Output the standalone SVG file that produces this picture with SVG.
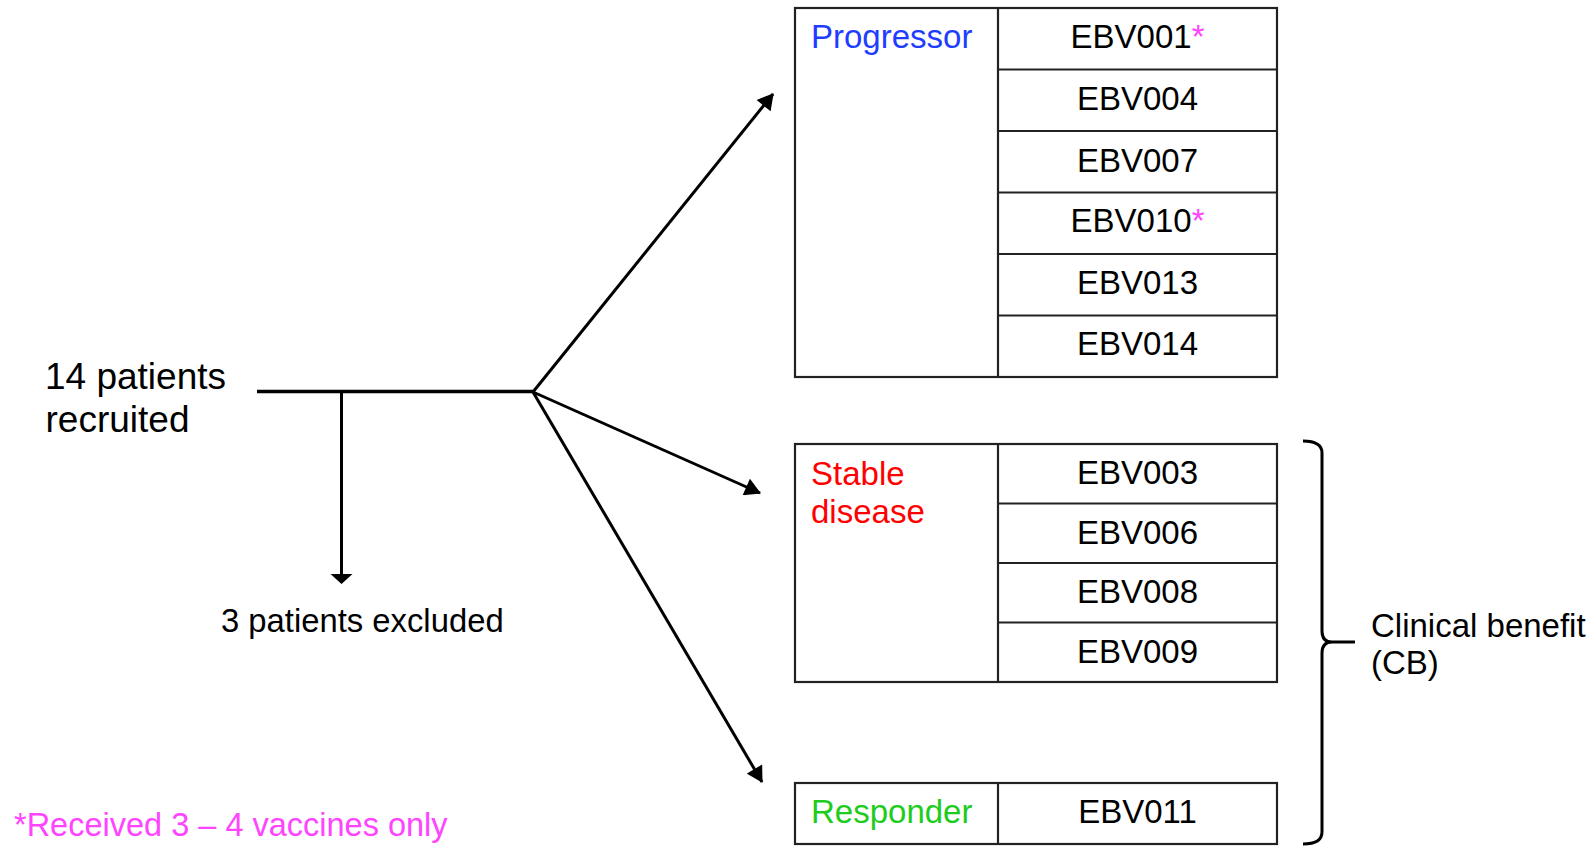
<svg xmlns="http://www.w3.org/2000/svg" width="1596" height="847" viewBox="0 0 1596 847">
<style>
text{font-family:"Liberation Sans",Arial,sans-serif;font-size:33px;fill:#000}
.big{font-size:37px}
.mid{text-anchor:middle}
.blue{fill:#1f3dff}
.red{fill:#ff0000}
.green{fill:#1ecc1e}
.pink{fill:#ff44ff}
.foot{font-size:32.5px}
.box{fill:#fff;stroke:#222;stroke-width:2.2}
.ln{stroke:#222;stroke-width:2.2;fill:none}
.con{stroke:#000;stroke-width:3;fill:none}
</style>
<defs>
<marker id="ah" markerUnits="userSpaceOnUse" markerWidth="18" markerHeight="18" viewBox="0 0 16 18" refX="15" refY="9" orient="auto">
<path d="M0,0 L16,9 L0,18 z" fill="#000"/>
</marker>
<marker id="ahd" markerUnits="userSpaceOnUse" markerWidth="10" markerHeight="24" viewBox="0 0 10 24" refX="9" refY="12" orient="auto">
<path d="M0,1 L10,12 L0,23 z" fill="#000"/>
</marker>
</defs>
<rect width="1596" height="847" fill="#fff"/>

<g id="start">
<text class="big" x="45" y="389">14 patients</text>
<text class="big" x="45.5" y="432">recruited</text>
</g>
<g id="excluded">
<text x="221" y="632" style="font-size:32.8px">3 patients excluded</text>
</g>

<g id="connectors">
<line class="con" x1="257" y1="391.5" x2="535" y2="391.5" style="stroke-width:3.5"/>
<line class="con" x1="341.5" y1="392" x2="341.5" y2="583" marker-end="url(#ahd)"/>
<line class="con" x1="533" y1="392" x2="773" y2="94" marker-end="url(#ah)"/>
<line class="con" x1="533" y1="392" x2="760" y2="493" marker-end="url(#ah)"/>
<line class="con" x1="533" y1="392" x2="762" y2="782" marker-end="url(#ah)"/>
</g>

<g id="progressor">
<rect class="box" x="795" y="8" width="482" height="369"/>
<line class="ln" x1="998" y1="8" x2="998" y2="377"/>
<line class="ln" x1="998" y1="69.5" x2="1277" y2="69.5"/>
<line class="ln" x1="998" y1="131" x2="1277" y2="131"/>
<line class="ln" x1="998" y1="192.5" x2="1277" y2="192.5"/>
<line class="ln" x1="998" y1="254" x2="1277" y2="254"/>
<line class="ln" x1="998" y1="315.5" x2="1277" y2="315.5"/>
<text class="blue" x="811" y="48">Progressor</text>
<text class="mid" x="1137.5" y="48">EBV001<tspan class="pink">*</tspan></text>
<text class="mid" x="1137.5" y="110">EBV004</text>
<text class="mid" x="1137.5" y="171.5">EBV007</text>
<text class="mid" x="1137.5" y="232">EBV010<tspan class="pink">*</tspan></text>
<text class="mid" x="1137.5" y="293.5">EBV013</text>
<text class="mid" x="1137.5" y="354.5">EBV014</text>
</g>

<g id="stable">
<rect class="box" x="795" y="444" width="482" height="238"/>
<line class="ln" x1="998" y1="444" x2="998" y2="682"/>
<line class="ln" x1="998" y1="503.5" x2="1277" y2="503.5"/>
<line class="ln" x1="998" y1="563" x2="1277" y2="563"/>
<line class="ln" x1="998" y1="622.5" x2="1277" y2="622.5"/>
<text class="red" x="811" y="485">Stable</text>
<text class="red" x="811" y="523">disease</text>
<text class="mid" x="1137.5" y="483.5">EBV003</text>
<text class="mid" x="1137.5" y="543.5">EBV006</text>
<text class="mid" x="1137.5" y="603">EBV008</text>
<text class="mid" x="1137.5" y="662.5">EBV009</text>
</g>

<g id="responder">
<rect class="box" x="795" y="783" width="482" height="61"/>
<line class="ln" x1="998" y1="783" x2="998" y2="844"/>
<text class="green" x="811" y="822.5">Responder</text>
<text class="mid" x="1137.5" y="822.5">EBV011</text>
</g>

<g id="clinical-benefit">
<path class="con" d="M1303,441 Q1322,441 1322,453 L1322,631 Q1322,642 1332,642 L1355,642 M1332,642 Q1322,642 1322,653 L1322,832 Q1322,844 1303,844"/>
<text x="1371" y="637">Clinical benefit</text>
<text x="1371" y="674">(CB)</text>
</g>

<g id="footnote">
<text class="pink foot" x="14" y="836">*Received 3 – 4 vaccines only</text>
</g>
</svg>
